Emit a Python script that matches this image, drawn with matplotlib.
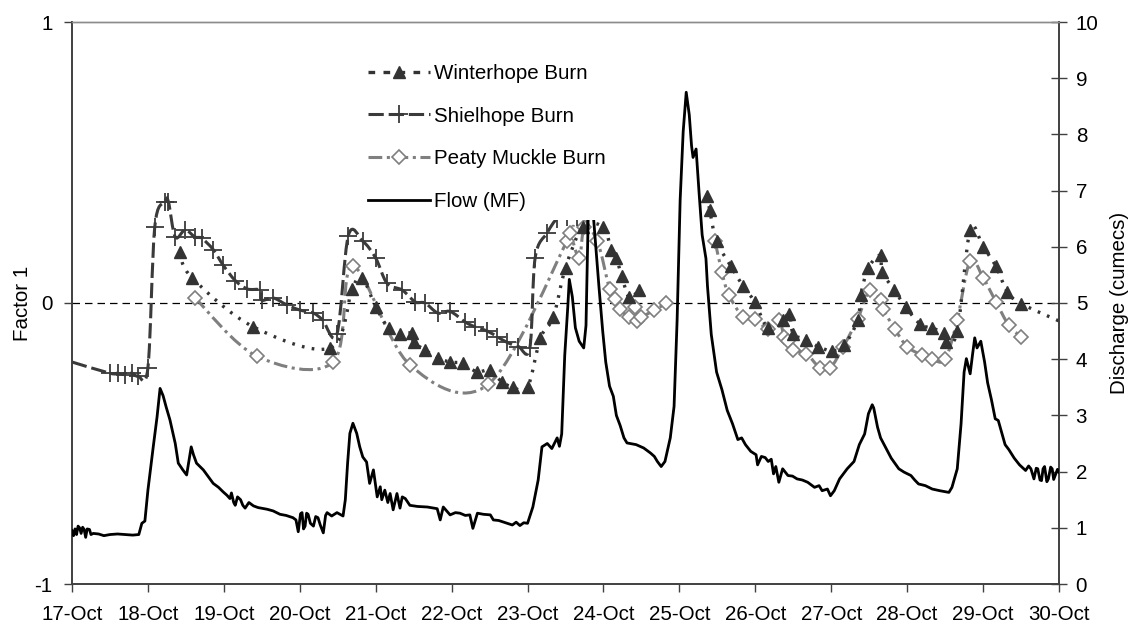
import numpy as np
import matplotlib
matplotlib.use("Agg")
import matplotlib.pyplot as plt
from matplotlib.path import Path
from matplotlib.patches import PathPatch, Rectangle
from matplotlib.lines import Line2D

plt.rcParams['font.family'] = ['Liberation Sans', 'DejaVu Sans']

# ---------------- data ----------------
day_ticks = list(range(17, 31))
day_labels = [f"{d}-Oct" for d in day_ticks]

# Winterhope Burn (Factor 1); nan = gap
wint_day = [18.42, 18.58, 19.39, 20.40, 20.69, 20.82, 21.00, 21.17, 21.32, 21.48, 21.50, 21.65,
            21.82, 21.98, 22.15, 22.33, 22.50, 22.66, 22.81, 23.00, 23.17, 23.34, 23.50, 23.73,
            24.00, 24.10, 24.17, 24.24, 24.34, 24.47, np.nan,
            25.37, 25.40, 25.49, 25.68, 25.84, 25.99, 26.17, 26.36, 26.45, 26.50, 26.67, 26.83,
            27.01, 27.17, 27.35, 27.39, 27.49, 27.65, 27.67, 27.83, 27.98, 28.17, 28.33, 28.49,
            28.51, 28.66, 28.83, 29.00, 29.17, 29.32, 29.50, 30.00]
wint_val = [0.18, 0.09, -0.085, -0.16, 0.05, 0.09, -0.013, -0.09, -0.11, -0.107, -0.14, -0.167,
            -0.196, -0.21, -0.215, -0.245, -0.24, -0.28, -0.30, -0.30, -0.125, -0.05, 0.125, 0.27,
            0.27, 0.19, 0.16, 0.096, 0.02, 0.047, np.nan,
            0.38, 0.33, 0.22, 0.13, 0.06, 0.004, -0.09, -0.06, -0.04, -0.11, -0.13, -0.155,
            -0.17, -0.15, -0.06, 0.03, 0.126, 0.17, 0.11, 0.047, -0.014, -0.075, -0.09, -0.106,
            -0.14, -0.10, 0.26, 0.20, 0.13, 0.04, -0.002, -0.064]

# Shielhope Burn (Factor 1)
shiel_day = [17.00, 17.50, 17.60, 17.70, 17.79, 17.87, 18.00, 18.09, 18.22, 18.27, 18.36, 18.49,
             18.62, 18.71, 18.86, 18.99, 19.15, 19.31, 19.48, 19.50, 19.65, 19.83, 20.00, 20.18,
             20.30, 20.49, 20.64, 20.83, 21.00, 21.15, 21.35, 21.52, 21.65, 21.82, 21.98, 22.18,
             22.31, 22.47, 22.60, 22.73, 22.88, 23.03, 23.10, 23.26, 23.39, 23.52, 23.65, 23.78]
shiel_val = [-0.21, -0.25, -0.25, -0.255, -0.25, -0.26, -0.23, 0.27, 0.36, 0.36, 0.235, 0.26,
             0.235, 0.23, 0.19, 0.135, 0.08, 0.05, 0.046, 0.01, 0.018, -0.007, -0.025, -0.036,
             -0.06, -0.11, 0.24, 0.22, 0.16, 0.07, 0.046, 0.004, 0.0, -0.036, -0.03, -0.068,
             -0.085, -0.10, -0.12, -0.14, -0.155, -0.16, 0.16, 0.25, 0.30, 0.305, 0.305, 0.30]

# Peaty Muckle Burn (Factor 1)
peat_day = [18.62, 19.44, 20.44, 20.70, 21.45, 22.48, 23.52, 23.56, 23.68, 23.75, 23.92, 24.08,
            24.15, 24.22, 24.34, 24.42, 24.44, 24.50, 24.67, 24.83, np.nan,
            25.47, 25.56, 25.65, 25.84, 26.00, 26.17, 26.31, 26.38, 26.43, 26.50, 26.67, 26.85,
            26.99, 27.16, 27.35, 27.51, 27.65, 27.68, 27.84, 28.00, 28.19, 28.33, 28.50, 28.66,
            28.83, 29.00, 29.17, 29.34, 29.50]
peat_val = [0.018, -0.19, -0.21, 0.13, -0.22, -0.29, 0.22, 0.25, 0.16, 0.27, 0.22, 0.05,
            0.016, -0.02, -0.05, -0.014, -0.063, -0.05, -0.026, 0.0, np.nan,
            0.22, 0.11, 0.03, -0.05, -0.056, -0.094, -0.06, -0.12, -0.136, -0.167, -0.18, -0.23,
            -0.23, -0.155, -0.056, 0.047, 0.01, -0.02, -0.094, -0.155, -0.185, -0.20, -0.20, -0.06,
            0.15, 0.09, 0.004, -0.08, -0.12]

# Flow (MF), discharge in cumecs
flow_day = [17.00, 17.02, 17.04, 17.06, 17.08, 17.10, 17.12, 17.14, 17.16, 17.18, 17.20, 17.23,
            17.25, 17.28, 17.35, 17.42, 17.50, 17.60, 17.70, 17.80, 17.88, 17.92, 17.96, 18.00, 18.07,
            18.12, 18.16, 18.20, 18.24, 18.29, 18.36, 18.40, 18.46, 18.51, 18.57, 18.60, 18.64,
            18.73, 18.80, 18.86, 18.93, 18.99, 19.04, 19.08, 19.10, 19.13, 19.15, 19.18, 19.22,
            19.25, 19.28, 19.33, 19.39, 19.45, 19.57, 19.65, 19.74, 19.82, 19.91, 19.95,
            19.98, 20.01, 20.03, 20.05, 20.07, 20.09, 20.11, 20.14, 20.18, 20.21, 20.24, 20.27,
            20.31, 20.34, 20.36, 20.42, 20.49, 20.57, 20.60,
            20.63, 20.66, 20.70, 20.75, 20.79, 20.83, 20.88, 20.92, 20.97, 21.02, 21.06, 21.08,
            21.12, 21.16, 21.19, 21.23, 21.28, 21.32, 21.35, 21.39, 21.45, 21.55, 21.68, 21.81,
            21.85, 21.89, 21.98, 22.05, 22.11, 22.18, 22.24, 22.28, 22.34, 22.42, 22.51, 22.55,
            22.62, 22.73, 22.80, 22.85, 22.90, 22.95, 23.00, 23.07, 23.14, 23.19,
            23.26, 23.32, 23.39, 23.42, 23.45, 23.49, 23.53, 23.55, 23.59, 23.63, 23.68, 23.74,
            23.77, 23.80, 23.84, 23.87, 23.94, 23.99, 24.03, 24.08, 24.13, 24.17, 24.22, 24.27,
            24.31, 24.43, 24.53, 24.62, 24.67, 24.71, 24.76, 24.81, 24.88, 24.93, 24.97, 25.01,
            25.05, 25.09, 25.13, 25.16, 25.18, 25.22, 25.26, 25.30, 25.35, 25.37, 25.42, 25.49,
            25.56, 25.63, 25.70, 25.77, 25.82, 25.87, 25.94, 26.01, 26.03, 26.08, 26.13, 26.17,
            26.21, 26.24, 26.27, 26.31, 26.36, 26.43, 26.49, 26.55, 26.62, 26.69, 26.78, 26.84,
            26.88, 26.95, 26.99, 27.04, 27.11,
            27.21, 27.30, 27.37, 27.44, 27.49, 27.54, 27.56, 27.61, 27.65, 27.72, 27.79, 27.89,
            27.96, 28.05, 28.10, 28.15, 28.24, 28.33, 28.43, 28.55, 28.59, 28.66, 28.71, 28.75, 28.78,
            28.83, 28.86, 28.89, 28.92, 28.97, 29.02, 29.06, 29.11, 29.16, 29.20, 29.25, 29.29,
            29.34, 29.41, 29.48, 29.56, 29.60, 29.63, 29.67, 29.70, 29.72, 29.75, 29.77, 29.79,
            29.81, 29.84, 29.86, 29.89, 29.91, 29.93, 29.95, 29.98, 30.00]
flow_q = [0.95, 0.86, 0.98, 0.88, 1.03, 1.00, 0.90, 1.01, 0.97, 0.83, 0.98, 0.97,
          0.88, 0.90, 0.89, 0.86, 0.88, 0.89, 0.88, 0.87, 0.88, 1.08, 1.12, 1.67, 2.44,
          2.97, 3.48, 3.35, 3.15, 2.92, 2.50, 2.15, 2.03, 1.94, 2.44, 2.30, 2.15,
          2.03, 1.90, 1.79, 1.72, 1.64, 1.58, 1.52, 1.62, 1.45, 1.40, 1.55, 1.50,
          1.40, 1.35, 1.45, 1.39, 1.36, 1.33, 1.30, 1.24, 1.22, 1.18, 1.14,
          0.93, 1.25, 1.27, 0.98, 1.03, 1.26, 1.24, 1.08, 1.03, 1.20, 1.18, 1.05,
          0.91, 1.22, 1.27, 1.21, 1.27, 1.21, 1.50,
          2.15, 2.68, 2.86, 2.68, 2.44, 2.26, 2.17, 1.79, 2.03, 1.55, 1.73, 1.50,
          1.67, 1.45, 1.61, 1.32, 1.61, 1.35, 1.55, 1.52, 1.40, 1.38, 1.37, 1.34,
          1.14, 1.37, 1.23, 1.27, 1.26, 1.22, 1.23, 0.99, 1.26, 1.24, 1.23, 1.14,
          1.13, 1.08, 1.05, 1.10, 1.04, 1.09, 1.08, 1.37, 1.85, 2.44,
          2.50, 2.41, 2.60, 2.45, 2.67, 4.07, 4.93, 5.42, 5.11, 4.56, 4.32, 4.20,
          4.60, 6.60, 7.20, 6.50, 5.30, 4.50, 3.95, 3.52, 3.34, 3.00, 2.82, 2.60,
          2.51, 2.48, 2.42, 2.33, 2.27, 2.18, 2.09, 2.18, 2.60, 3.16, 4.69, 6.83,
          8.05, 8.75, 8.35, 7.80, 7.59, 7.74, 6.95, 6.21, 5.79, 5.30, 4.44, 3.77,
          3.46, 3.09, 2.85, 2.57, 2.60, 2.48, 2.36, 2.30, 2.12, 2.27, 2.25, 2.18,
          2.22, 1.96, 2.09, 1.81, 2.05, 1.93, 1.92, 1.87, 1.85, 1.81, 1.72, 1.75,
          1.66, 1.69, 1.57, 1.66, 1.87,
          2.05, 2.18, 2.48, 2.67, 3.03, 3.19, 3.13, 2.79, 2.60, 2.42, 2.24, 2.05,
          1.99, 1.93, 1.85, 1.78, 1.75, 1.69, 1.66, 1.63, 1.72, 2.05, 2.85, 3.77, 4.01,
          3.74, 4.07, 4.38, 4.20, 4.32, 3.95, 3.58, 3.28, 2.94, 2.91, 2.67, 2.48,
          2.39, 2.24, 2.12, 2.02, 2.10, 2.05, 1.87, 2.06, 2.05, 1.85, 1.84, 2.05,
          2.09, 1.82, 1.87, 2.08, 2.05, 1.86, 1.93, 2.04, 1.99]

series_names = ["Winterhope Burn", "Shielhope Burn", "Peaty Muckle Burn", "Flow (MF)"]

# ---------------- helpers ----------------
def smooth_path(xs, ys):
    """Excel-style smoothed line (Catmull-Rom as cubic Bezier), split at NaN gaps."""
    xs = np.asarray(xs, float)
    ys = np.asarray(ys, float)
    pts = np.column_stack([xs, ys])
    ok = ~np.isnan(xs)
    verts, codes = [], []
    segs, cur = [], []
    for p, good in zip(pts, ok):
        if good:
            cur.append(p)
        elif cur:
            segs.append(np.array(cur)); cur = []
    if cur:
        segs.append(np.array(cur))
    for P in segs:
        n = len(P)
        verts.append(P[0]); codes.append(Path.MOVETO)
        for i in range(n - 1):
            pp = P[i - 1] if i > 0 else P[i]
            pn = P[i + 2] if i + 2 < n else P[i + 1]
            c1 = P[i] + (P[i + 1] - pp) / 6.0
            c2 = P[i + 1] - (pn - P[i]) / 6.0
            verts += [c1, c2, P[i + 1]]
            codes += [Path.CURVE4] * 3
    return Path(verts, codes)

# ---------------- figure ----------------
W, H = 1134, 626
fig = plt.figure(figsize=(W / 100, H / 100), dpi=100)
L, R, T, B = 72, 1059, 22, 584
ax = fig.add_axes([L / W, 1 - B / H, (R - L) / W, (B - T) / H])
ax2 = ax.twinx()

FS = 14.8
c_wint = '#333333'
c_shiel = '#3a3a3a'
c_peat = '#7f7f7f'

ls_wint = (0, (0.8, 2.2))
ls_shiel = (0, (5, 1.6))
ls_peat = (0, (4.5, 1.5, 1.0, 1.5))

# zero line
ax.axhline(0, color='black', lw=0.9, ls=(0, (6, 4)), zorder=1)

# smoothed factor lines
ax.add_patch(PathPatch(smooth_path(peat_day, peat_val), fill=False, edgecolor=c_peat,
                       lw=2.2, ls=ls_peat, capstyle='butt', zorder=2))
ax.add_patch(PathPatch(smooth_path(shiel_day, shiel_val), fill=False, edgecolor=c_shiel,
                       lw=2.2, ls=ls_shiel, capstyle='butt', zorder=3))
ax.add_patch(PathPatch(smooth_path(wint_day, wint_val), fill=False, edgecolor=c_wint,
                       lw=2.4, ls=ls_wint, capstyle='butt', zorder=4))

# markers
ax.plot(peat_day, peat_val, ls='none', marker='D', ms=7.5, mfc='white', mec=c_peat, mew=1.2, zorder=5)
ax.plot(shiel_day[1:], shiel_val[1:], ls='none', marker='+', ms=13, mec=c_shiel, mew=1.3, zorder=6)
ax.plot(wint_day[:-1], wint_val[:-1], ls='none', marker='^', ms=9, mfc=c_wint, mec=c_wint, zorder=7)

# flow on secondary axis
ax2.plot(flow_day, flow_q, color='black', lw=2.0, zorder=3)

# axes setup
ax.set_xlim(17, 30)
ax.set_ylim(-1, 1)
ax2.set_ylim(0, 10)
ax.set_xticks(day_ticks)
ax.set_xticklabels(day_labels)
ax.set_yticks([-1, 0, 1])
ax.set_yticklabels(['-1', '0', '1'])
ax2.set_yticks(range(0, 11))

ax.tick_params(axis='x', direction='out', length=6, width=1, pad=9, labelsize=FS, colors='#404040', labelcolor='black')
ax.tick_params(axis='y', direction='out', length=6, width=1, pad=8, labelsize=FS, colors='#404040', labelcolor='black')
ax2.tick_params(axis='y', direction='inout', length=12, width=1, pad=6, labelsize=FS, colors='#404040', labelcolor='black')

for a in (ax, ax2):
    for s in ['left', 'right', 'bottom']:
        a.spines[s].set_color('#404040')
        a.spines[s].set_linewidth(1.2)
    a.spines['top'].set_color('#8c8c8c')
    a.spines['top'].set_linewidth(1.0)

ax.set_ylabel('Factor 1', fontsize=FS)
ax2.set_ylabel('Discharge (cumecs)', fontsize=FS)
ax.yaxis.set_label_coords((32 - L) / (R - L), 0.5)
ax2.yaxis.set_label_coords((1110 - L) / (R - L), 0.5)

# white legend box (covers data underneath, as in the original)
fig.patches.append(Rectangle((352 / W, 1 - 220 / H), (614 - 352) / W, (220 - 45) / H,
                             transform=fig.transFigure, facecolor='white', edgecolor='none', zorder=2))

handles = [
    Line2D([], [], color=c_wint, lw=2.4, ls=(0, (2.0, 2.5)), marker='^', ms=9, mfc=c_wint, mec=c_wint),
    Line2D([], [], color=c_shiel, lw=2.2, ls=ls_shiel, marker='+', ms=13, mew=1.3),
    Line2D([], [], color=c_peat, lw=2.2, ls=ls_peat, marker='D', ms=7.5, mfc='white', mec=c_peat, mew=1.2),
    Line2D([], [], color='black', lw=2.0),
]
leg = fig.legend(handles, series_names, loc='upper left', bbox_to_anchor=(368 / W, 1 - 64 / H),
                 bbox_transform=fig.transFigure, frameon=False, fontsize=FS, handlelength=3.0,
                 handletextpad=0.2, labelspacing=1.15, borderpad=0, borderaxespad=0)
leg.set_zorder(5)

fig.savefig('out.png', dpi=100)
